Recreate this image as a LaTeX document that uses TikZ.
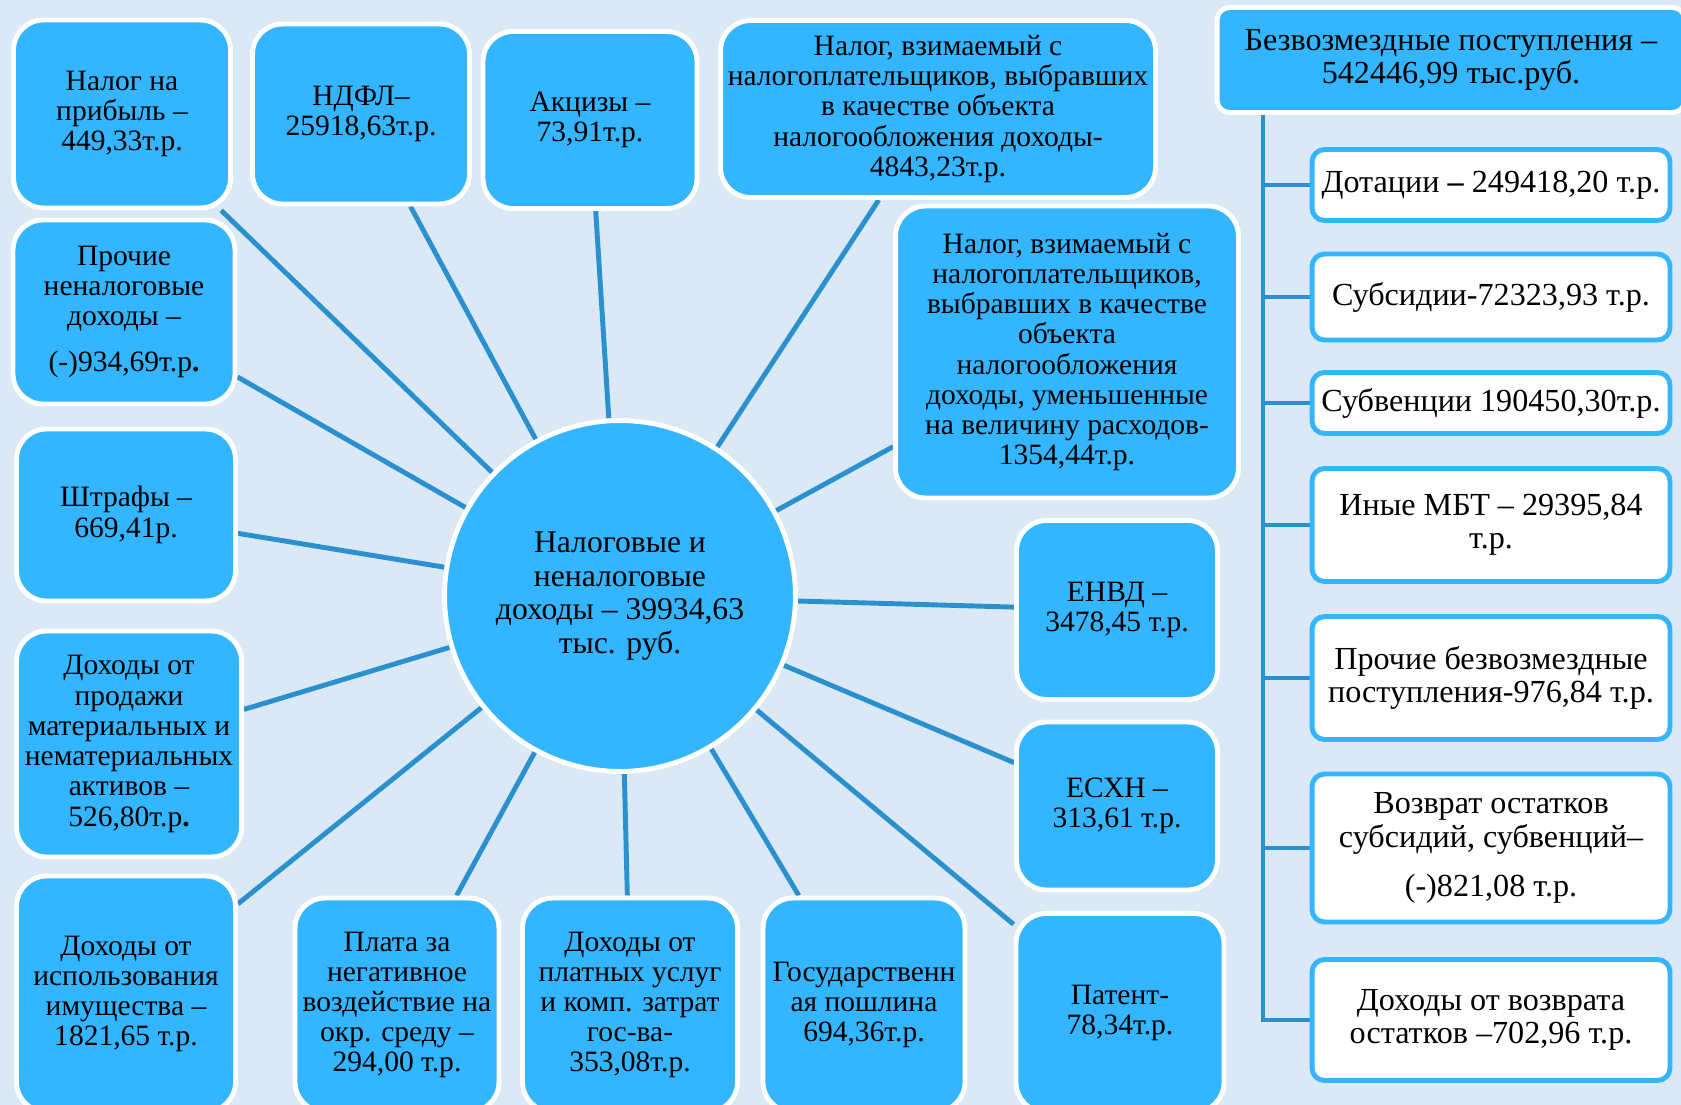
\documentclass[tikz,border=0pt]{standalone}
\usepackage{fontspec}
\setmainfont{Liberation Serif}
\usepackage{tikz}
\usetikzlibrary{positioning,calc,backgrounds}
\definecolor{BoxBlue}{RGB}{51,181,255}
\definecolor{LineBlue}{RGB}{42,145,206}
\definecolor{PaleBg}{RGB}{218,233,245}

\begin{document}
\begin{tikzpicture}[x=0.02cm, y=-0.02cm,
                % Styles of boxes
                bluebox/.style={rectangle, rounded corners=0.6cm, draw=white, line width=2.8pt, fill=BoxBlue, text=black, align=center, inner sep=0pt, font=\fontsize{16.8}{17.2}\selectfont},
                hub/.style={circle, draw=white, line width=2.8pt, fill=BoxBlue, text=black, align=center, inner sep=0pt, minimum size=7.02cm, font=\fontsize{18}{19}\selectfont},
                headbox/.style={rectangle, rounded corners=0.25cm, draw=white, line width=2.8pt, fill=BoxBlue, text=black, align=center, inner sep=0pt, font=\fontsize{18.3}{19}\selectfont},
                whitebox/.style={rectangle, rounded corners=0.25cm, draw=BoxBlue, line width=2.8pt, fill=white, text=black, align=center, inner sep=0pt, minimum width=7.16cm, font=\fontsize{18.3}{19}\selectfont},
                % Styles of lines
                spoke/.style={draw=LineBlue, line width=2.8pt},
                branch/.style={draw=LineBlue, line width=2.8pt}
            ]
                \useasboundingbox (0,0) rectangle (1681,1105);

                % --- CENTRE ---
                \node[hub] (c) at (620,596) {Налоговые и\\неналоговые\\доходы – 39934,63\\тыс. руб.};

                % --- TOP ROW ---
                \node[bluebox, minimum width=4.34cm, minimum height=3.76cm] (b1) at (122,114) {Налог на\\прибыль –\\449,33т.р.};
                \node[bluebox, minimum width=4.34cm, minimum height=3.60cm] (b2) at (361,114) {НДФЛ–\\25918,63т.р.};
                \node[bluebox, minimum width=4.28cm, minimum height=3.54cm] (b3) at (590,120) {Акцизы –\\73,91т.р.};
                \node[bluebox, minimum width=8.70cm, minimum height=3.54cm] (b4) at (938,109) {Налог, взимаемый с\\налогоплательщиков, выбравших\\в качестве объекта\\налогообложения доходы-\\4843,23т.р.};
                \node[bluebox, minimum width=6.86cm, minimum height=5.84cm] (b5) at (1067,352) {Налог, взимаемый с\\налогоплательщиков,\\выбравших в качестве\\объекта\\налогообложения\\доходы, уменьшенные\\на величину расходов-\\1354,44т.р.};

                % --- LEFT COLUMN ---
                \node[bluebox, minimum width=4.44cm, minimum height=3.68cm] (b7) at (124,312) {Прочие\\неналоговые\\доходы –\\[9pt](-)934,69т.р\textbf{.}};
                \node[bluebox, minimum width=4.38cm, minimum height=3.44cm] (b8) at (126,515) {Штрафы –\\669,41р.};
                \node[bluebox, minimum width=4.50cm, minimum height=4.52cm] (b9) at (129,744) {Доходы от\\продажи\\материальных и\\нематериальных\\активов –\\526,80т.р\textbf{.}};
                \node[bluebox, minimum width=4.38cm, minimum height=4.72cm] (b10) at (126,994) {Доходы от\\использования\\имущества –\\1821,65 т.р.};

                % --- BOTTOM ROW ---
                \node[bluebox, minimum width=4.08cm, minimum height=4.28cm] (b11) at (397,1005) {Плата за\\негативное\\воздействие на\\окр. среду –\\294,00 т.р.};
                \node[bluebox, minimum width=4.30cm, minimum height=4.28cm] (b12) at (630,1005) {Доходы от\\платных услуг\\и комп. затрат\\гос-ва-\\353,08т.р.};
                \node[bluebox, minimum width=4.04cm, minimum height=4.28cm] (b13) at (864,1005) {Государственн\\ая пошлина\\694,36т.р.};
                \node[bluebox, minimum width=4.16cm, minimum height=3.98cm] (b14) at (1120,1013) {Патент-\\78,34т.р.};

                % --- RIGHT OF CENTRE ---
                \node[bluebox, minimum width=4.02cm, minimum height=3.36cm] (b15) at (1117,806) {ЕСХН –\\313,61 т.р.};
                \node[bluebox, minimum width=4.02cm, minimum height=3.58cm] (b16) at (1117,610) {ЕНВД –\\3478,45 т.р.};

                % --- БЕЗВОЗМЕЗДНЫЕ ---
                \node[headbox, minimum width=9.36cm, minimum height=2.10cm] (hdr) at (1451,60) {Безвозмездные поступления –\\542446,99 тыс.руб.};
                \coordinate (trunk) at (1263,112);

                \node[whitebox, minimum height=1.42cm] (r1) at (1491,185) {Дотации \textbf{–} 249418,20 т.р.};
                \node[whitebox, minimum height=1.72cm] (r2) at (1491,297) {Субсидии-72323,93 т.р.};
                \node[whitebox, minimum height=1.22cm] (r3) at (1491,403) {Субвенции 190450,30т.р.};
                \node[whitebox, minimum height=2.26cm] (r4) at (1491,525) {Иные МБТ – 29395,84\\т.р.};
                \node[whitebox, minimum height=2.46cm] (r5) at (1491,678) {Прочие безвозмездные\\поступления-976,84 т.р.};
                \node[whitebox, minimum height=2.96cm] (r6) at (1491,848) {Возврат остатков\\субсидий, субвенций–\\[9pt](-)821,08 т.р.};
                \node[whitebox, minimum height=2.42cm] (r7) at (1491,1020) {Доходы от возврата\\остатков –702,96 т.р.};

                % --- LINES ---
                \begin{pgfonlayer}{background}
                    \fill[PaleBg] (0,0) rectangle (1681,1105);
                    \draw[spoke] (c) -- (b1); \draw[spoke] (c) -- (b2); \draw[spoke] (c) -- (b3);
                    \draw[spoke] (c) -- (b4); \draw[spoke] (c) -- (b5);
                    \draw[spoke] (c) -- (b7); \draw[spoke] (c) -- (b8); \draw[spoke] (c) -- (b9); \draw[spoke] (c) -- (b10);
                    \draw[spoke] (c) -- (b11); \draw[spoke] (c) -- (b12); \draw[spoke] (c) -- (b13); \draw[spoke] (c) -- (b14);
                    \draw[spoke] (c) -- (b15); \draw[spoke] (c) -- (b16);

                    % tree of the right column
                    \draw[branch] (trunk) |- (r1.west); \draw[branch] (trunk) |- (r2.west);
                    \draw[branch] (trunk) |- (r3.west); \draw[branch] (trunk) |- (r4.west);
                    \draw[branch] (trunk) |- (r5.west); \draw[branch] (trunk) |- (r6.west);
                    \draw[branch] (trunk) |- (r7.west);
                \end{pgfonlayer}

            \end{tikzpicture}
\end{document}
